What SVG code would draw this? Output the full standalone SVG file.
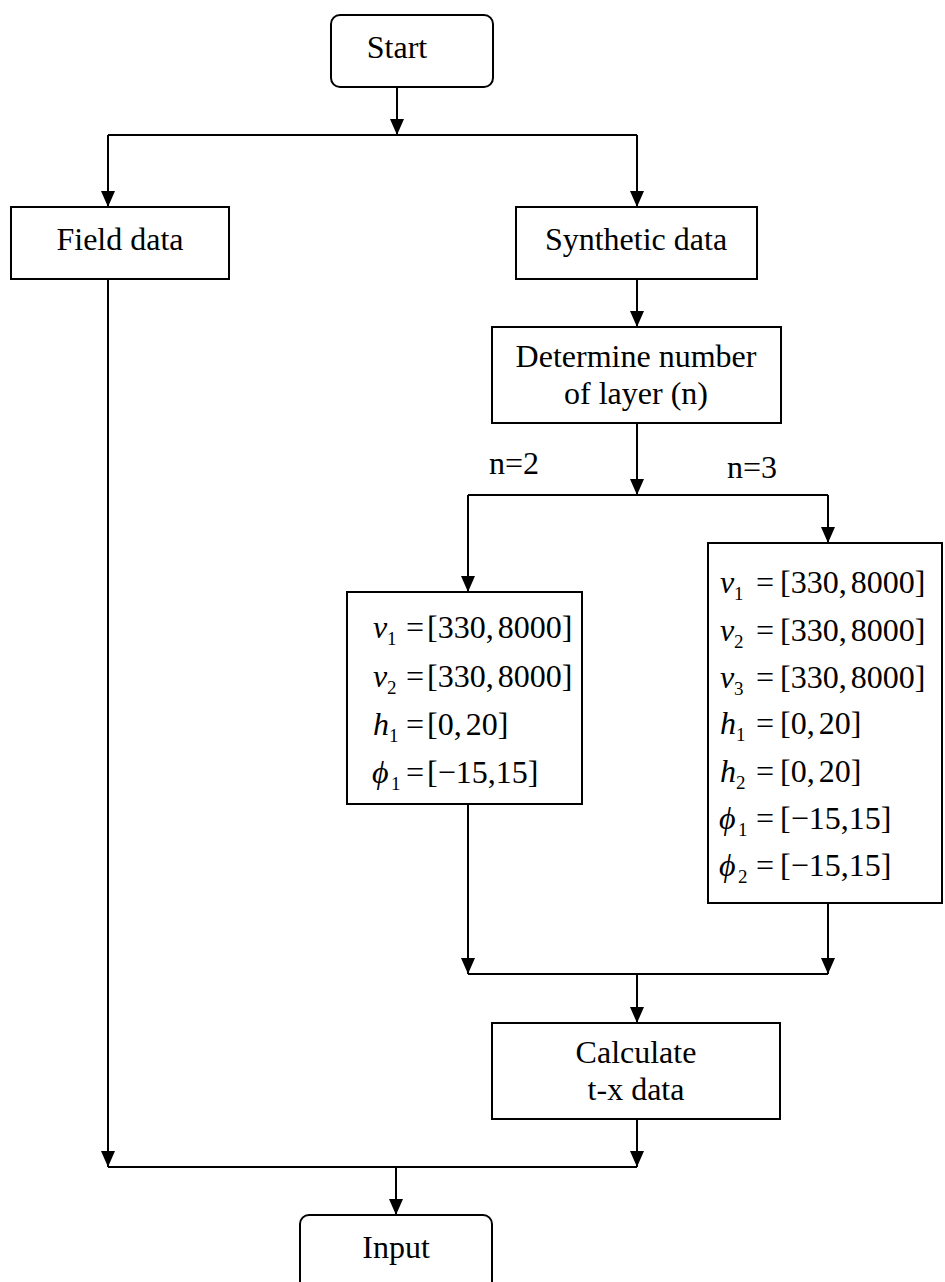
<svg xmlns="http://www.w3.org/2000/svg" width="945" height="1282" viewBox="0 0 945 1282">
<defs>
<marker id="ah" markerUnits="userSpaceOnUse" markerWidth="16" markerHeight="14" viewBox="0 0 16 14" refX="16" refY="7" orient="auto">
<path d="M0,0 L16,7 L0,14 Z" fill="#000"/>
</marker>
<style>
.box{fill:#fff;stroke:#000;stroke-width:2}
.t{font-family:"Liberation Serif","Times New Roman",serif;font-size:32px;fill:#000;text-anchor:middle}
.m{font-family:"Liberation Serif","Times New Roman",serif;font-size:32px;fill:#000}
.i{font-style:italic}
.s{font-family:"Liberation Serif","Times New Roman",serif;font-size:19px;fill:#000}
.c{fill:none;stroke:#000;stroke-width:2}
.a{fill:none;stroke:#000;stroke-width:2;marker-end:url(#ah)}
</style>
</defs>
<g id="connectors">
<line class="a" x1="397" y1="87" x2="397" y2="135"/>
<line class="c" x1="108" y1="135" x2="637" y2="135"/>
<line class="a" x1="108" y1="135" x2="108" y2="207"/>
<line class="a" x1="637" y1="135" x2="637" y2="207"/>
<line class="a" x1="637" y1="279" x2="637" y2="327"/>
<line class="a" x1="637" y1="423" x2="637" y2="495"/>
<line class="c" x1="468" y1="495" x2="828" y2="495"/>
<line class="a" x1="468" y1="495" x2="468" y2="592"/>
<line class="a" x1="828" y1="495" x2="828" y2="543"/>
<line class="a" x1="468" y1="804" x2="468" y2="974"/>
<line class="a" x1="828" y1="903" x2="828" y2="974"/>
<line class="c" x1="468" y1="974" x2="828" y2="974"/>
<line class="a" x1="637" y1="974" x2="637" y2="1023"/>
<line class="a" x1="108" y1="279" x2="108" y2="1167"/>
<line class="a" x1="637" y1="1119" x2="637" y2="1167"/>
<line class="c" x1="108" y1="1167" x2="637" y2="1167"/>
<line class="a" x1="396" y1="1167" x2="396" y2="1215"/>
<text class="m" x="489" y="474">n=2</text>
<text class="m" x="727" y="478">n=3</text>
</g>
<g id="start">
<rect class="box" x="331" y="15" width="162" height="72" rx="9"/>
<text class="t" x="397" y="58">Start</text>
</g>
<g id="field">
<rect class="box" x="11" y="207" width="218" height="72"/>
<text class="t" x="120" y="250">Field data</text>
</g>
<g id="synthetic">
<rect class="box" x="516" y="207" width="241" height="72"/>
<text class="t" x="636" y="250">Synthetic data</text>
</g>
<g id="determine">
<rect class="box" x="492" y="327" width="289" height="96"/>
<text class="t" x="636" y="367">Determine number</text>
<text class="t" x="636" y="404">of layer (n)</text>
</g>
<g id="params2">
<rect class="box" x="347" y="592" width="235" height="212"/>
<text class="m i" x="373" y="638">v</text><text class="s" x="387" y="645">1</text><text class="m" x="406" y="638">=</text><text class="m" x="427" y="638">[330,<tspan dx="4">8000]</tspan></text>
<text class="m i" x="373" y="687">v</text><text class="s" x="387" y="694">2</text><text class="m" x="406" y="687">=</text><text class="m" x="427" y="687">[330,<tspan dx="4">8000]</tspan></text>
<text class="m i" x="373" y="735">h</text><text class="s" x="389" y="742">1</text><text class="m" x="406" y="735">=</text><text class="m" x="427" y="735">[0,<tspan dx="4">20]</tspan></text>
<text class="m i" x="372" y="783">ϕ</text><text class="s" x="391" y="790">1</text><text class="m" x="406" y="783">=</text><text class="m" x="427" y="783">[−15,15]</text>
</g>
<g id="params3">
<rect class="box" x="708" y="543" width="234" height="360"/>
<text class="m i" x="720" y="593">v</text><text class="s" x="734" y="600">1</text><text class="m" x="756" y="593">=</text><text class="m" x="780" y="593">[330,<tspan dx="4">8000]</tspan></text>
<text class="m i" x="720" y="641">v</text><text class="s" x="734" y="648">2</text><text class="m" x="756" y="641">=</text><text class="m" x="780" y="641">[330,<tspan dx="4">8000]</tspan></text>
<text class="m i" x="720" y="688">v</text><text class="s" x="734" y="695">3</text><text class="m" x="756" y="688">=</text><text class="m" x="780" y="688">[330,<tspan dx="4">8000]</tspan></text>
<text class="m i" x="720" y="734">h</text><text class="s" x="736" y="741">1</text><text class="m" x="756" y="734">=</text><text class="m" x="780" y="734">[0,<tspan dx="4">20]</tspan></text>
<text class="m i" x="720" y="782">h</text><text class="s" x="736" y="789">2</text><text class="m" x="756" y="782">=</text><text class="m" x="780" y="782">[0,<tspan dx="4">20]</tspan></text>
<text class="m i" x="719" y="829">ϕ</text><text class="s" x="738" y="836">1</text><text class="m" x="756" y="829">=</text><text class="m" x="780" y="829">[−15,15]</text>
<text class="m i" x="719" y="876">ϕ</text><text class="s" x="738" y="883">2</text><text class="m" x="756" y="876">=</text><text class="m" x="780" y="876">[−15,15]</text>
</g>
<g id="calculate">
<rect class="box" x="492" y="1023" width="288" height="96"/>
<text class="t" x="636" y="1063">Calculate</text>
<text class="t" x="636" y="1100">t-x data</text>
</g>
<g id="input">
<rect class="box" x="300" y="1215" width="192" height="90" rx="9"/>
<text class="t" x="396" y="1258">Input</text>
</g>
</svg>
